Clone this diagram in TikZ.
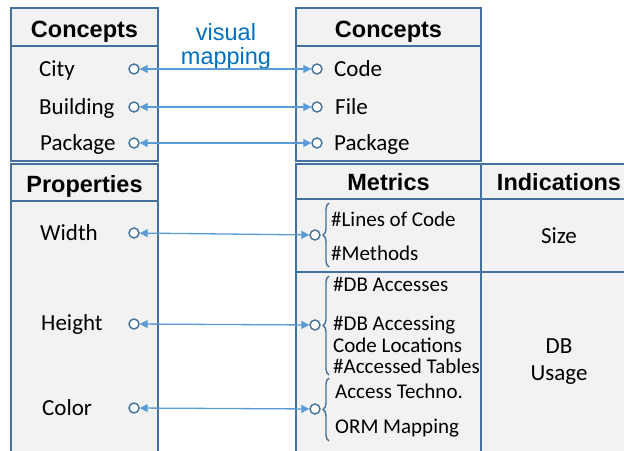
\documentclass[tikz,border=0pt]{standalone}
\usepackage{fontspec}
\setmainfont{Carlito}
\newfontfamily\arialfam{Liberation Sans}
\usepackage{tikz}
\usetikzlibrary{arrows.meta,positioning,decorations.pathreplacing}
\definecolor{frameblue}{HTML}{41719C}
\definecolor{panelgray}{HTML}{F2F2F2}
\definecolor{linkblue}{HTML}{5B9BD5}
\definecolor{noteblue}{HTML}{0070C0}
\newcommand\itemfont{\fontsize{23}{27}\selectfont}
\newcommand\metfont{\fontsize{21}{22}\selectfont}

\begin{document}
\begin{tikzpicture}[x=1pt, y=-1pt, node distance=0pt,
  hdr/.style={draw=frameblue, fill=panelgray, line width=1.6pt, outer sep=0pt, inner sep=0pt,
    minimum height=38pt, text height=21pt, text depth=0pt, font={\arialfam\bfseries\fontsize{23.5}{28}\selectfont}},
  cell/.style={draw=frameblue, fill=panelgray, line width=1.6pt, outer sep=0pt, inner sep=0pt,
    align=center, font=\itemfont},
  lbl/.style={anchor=mid west, inner sep=0pt, font=\itemfont},
  met/.style={anchor=mid west, inner sep=0pt, align=left, font=\metfont},
  port/.style={circle, draw=frameblue, fill=white, line width=1.4pt, minimum size=10pt, inner sep=0pt},
  maparr/.style={draw=linkblue, line width=1.3pt, {Triangle[length=8pt,width=8pt]}-{Triangle[length=8pt,width=8pt]}},
  brc/.style={draw=frameblue, line width=1.4pt, decorate, decoration={brace, amplitude=6pt}}]
\useasboundingbox (0,0) rectangle (624,450);
\clip (0,0) rectangle (624,450);

% left side: what the city shows
\node[hdr, minimum width=147pt, anchor=north west] (lconhead) at (11,8) {Concepts};
\node[cell, minimum width=147pt, minimum height=115pt, below=of lconhead] (lconbody) {};
\node[hdr, minimum width=147pt, minimum height=37pt, text height=19pt, anchor=north west] (prophead) at (11,164) {Properties};
\node[cell, minimum width=147pt, minimum height=252pt, below=of prophead] (propbody) {};

% right side: what the code has
\node[hdr, minimum width=185pt, anchor=north west] (rconhead) at (296,8) {Concepts};
\node[cell, minimum width=185pt, minimum height=115pt, below=of rconhead] (rconbody) {};
\node[hdr, minimum width=185pt, minimum height=35pt, text height=17pt, anchor=north west] (methead) at (296,164) {Metrics};
\node[hdr, minimum width=156pt, minimum height=35pt, text height=17pt, right=of methead] (indhead) {Indications};
\node[cell, minimum width=185pt, minimum height=73pt, below=of methead] (metsize) {};
\node[cell, minimum width=156pt, minimum height=73pt, below=of indhead] (indsize) {Size};
\node[cell, minimum width=185pt, minimum height=180pt, below=of metsize] (metdb) {};
\node[cell, minimum width=156pt, minimum height=180pt, below=of indsize] (inddb) {DB\\Usage};

\node[align=center, text=noteblue, inner sep=0pt, font={\arialfam\fontsize{23.5}{24}\selectfont}] (vismap) at (226,46) {visual\\mapping};

% labels
\node[lbl] (city) at (39,74) {City};
\node[lbl] (building) at (39,112) {Building};
\node[lbl] (lpackage) at (40,148) {Package};
\node[lbl] (width) at (40,238) {Width};
\node[lbl] (height) at (41,328) {Height};
\node[lbl] (color) at (42,413) {Color};
\node[lbl] (code) at (334,74) {Code};
\node[lbl] (file) at (335,112) {File};
\node[lbl] (rpackage) at (334,148) {Package};

\node[met] (loc) at (331,224) {\#Lines of Code};
\node[met] (methods) at (331,258) {\#Methods};
\node[met] (dbacc) at (333,289) {\#DB Accesses};
\node[met, anchor=west] (dbloc) at (333,334) {\#DB Accessing\\Code Locations};
\node[met] (tables) at (333,371) {\#Accessed Tables};
\node[met] (techno) at (335,396) {Access Techno.};
\node[met] (orm) at (335,431) {ORM Mapping};

% braces
\draw[brc] (329,267) -- (329,203);
\draw[brc] (329,375) -- (329,276);
\draw[brc] (329,441) -- (329,378);

% ports
\node[port] (pcity) at (134,69) {};
\node[port] (pbuilding) at (134,107) {};
\node[port] (ppackage) at (134,143) {};
\node[port] (pwidth) at (134,233) {};
\node[port] (pheight) at (134,324) {};
\node[port] (pcolor) at (134,408) {};
\node[port] (qcode) at (317,69) {};
\node[port] (qfile) at (317,107) {};
\node[port] (qpackage) at (317,143) {};
\node[port] (qsize) at (315,235) {};
\node[port] (qdb) at (315,325) {};
\node[port] (qtech) at (315,409) {};

\draw[maparr] (pcity) -- (qcode); \draw[maparr] (pbuilding) -- (qfile); \draw[maparr] (ppackage) -- (qpackage);
\draw[maparr] (pwidth) -- (qsize); \draw[maparr] (pheight) -- (qdb); \draw[maparr] (pcolor) -- (qtech);
\end{tikzpicture}
\end{document}
